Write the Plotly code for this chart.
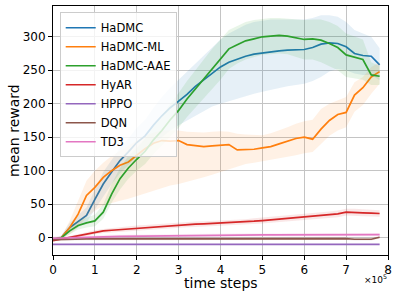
import plotly.graph_objects as go

# time steps (units of 1e5)
steps = [0.0, 0.2, 0.4, 0.6, 0.8, 1.0, 1.2, 1.4, 1.6, 1.8,
         2.0, 2.2, 2.4, 2.6, 2.8, 3.0, 3.2, 3.4, 3.6, 3.8,
         4.0, 4.2, 4.4, 4.6, 4.8, 5.0, 5.2, 5.4, 5.6, 5.8,
         6.0, 6.2, 6.4, 6.6, 6.8, 7.0, 7.2, 7.4, 7.6, 7.8]

hadmc = [-3, 0, 15, 24, 33, 57, 80, 98, 115, 128,
         142, 152, 168, 182, 194, 204, 214, 226, 236, 246,
         255, 262, 267, 271, 274, 276, 278, 279, 280, 281,
         281, 284, 289, 291, 290, 285, 275, 272, 271, 258]
hadmc_lo = [-5, -2, 8, 15, 22, 42, 62, 80, 96, 108,
            120, 128, 140, 150, 160, 168, 175, 183, 190, 196,
            200, 204, 208, 212, 215, 218, 221, 224, 226, 228,
            230, 234, 240, 248, 252, 250, 245, 243, 243, 235]
hadmc_hi = [-1, 3, 22, 33, 45, 72, 98, 116, 134, 148,
            164, 176, 194, 210, 224, 236, 248, 260, 272, 284,
            296, 305, 312, 318, 322, 324, 326, 326, 326, 326,
            326, 328, 332, 332, 330, 322, 310, 305, 300, 283]

hadmc_ml = [-3, 0, 15, 35, 63, 75, 90, 100, 108, 113,
            123, 133, 141, 145, 144, 145, 139, 138, 136, 137,
            138, 139, 131, 131, 132, 134, 136, 140, 144, 148,
            150, 147, 162, 175, 184, 187, 213, 224, 240, 248]
hadmc_ml_lo = [-5, -2, 5, 15, 30, 40, 48, 52, 55, 58,
               62, 66, 70, 74, 78, 80, 83, 86, 90, 94,
               98, 101, 106, 110, 112, 114, 116, 118, 120, 123,
               126, 128, 140, 152, 160, 165, 188, 198, 215, 230]
hadmc_ml_hi = [-1, 2, 25, 55, 85, 100, 112, 122, 130, 138,
               145, 152, 157, 160, 160, 160, 158, 157, 157, 158,
               159, 158, 155, 154, 153, 153, 156, 160, 165, 170,
               174, 176, 192, 200, 205, 210, 232, 240, 255, 262]

hadmc_aae = [-3, 0, 10, 18, 22, 25, 38, 65, 88, 104,
             117, 129, 146, 160, 176, 190, 207, 222, 238, 252,
             267, 282, 288, 294, 297, 300, 301, 302, 301, 298,
             296, 297, 295, 290, 284, 273, 269, 266, 243, 241]
hadmc_aae_lo = [-5, -2, 5, 12, 15, 17, 28, 52, 72, 88,
                100, 110, 125, 138, 152, 164, 180, 194, 208, 222,
                236, 252, 260, 266, 270, 273, 274, 275, 274, 270,
                266, 266, 262, 256, 250, 240, 238, 236, 228, 228]
hadmc_aae_hi = [-1, 2, 15, 25, 30, 34, 50, 80, 104, 122,
                134, 148, 166, 182, 200, 216, 234, 250, 266, 282,
                296, 310, 316, 322, 325, 327, 328, 328, 327, 326,
                325, 326, 326, 322, 316, 305, 300, 296, 262, 256]

hyar = [-4.5, -2, 0, 3, 6, 8, 10, 11, 12, 13,
        14, 15, 16, 17, 18, 19, 19.5, 20, 20.5, 21,
        21.5, 22, 22.5, 23.5, 24.5, 25.5, 26.5, 27.5, 28.5, 29.5,
        30.5, 31.5, 32.5, 34, 35.5, 38, 38, 37, 36.5, 36]
hyar_sd = [1, 1.5, 2, 2.5, 3, 3, 3, 3.5, 3.5, 3.5,
           4, 4, 4, 4, 4, 4, 4, 4, 4, 4,
           4, 4, 4, 4, 4.5, 4.5, 4.5, 4.5, 4.5, 4.5,
           4.5, 4.5, 5, 5, 5, 5, 5, 5, 5, 5]

hppo = [-10] * 40
hppo_sd = [0.5] * 40

dqn = [-3, -2.5, -2.5, -2.5, -2, -2, -2, -2, -2, -2,
       -1.5, -1.5, -1.5, -1.5, -1.5, -1.3, -1.3, -1.3, -1.3, -1.3,
       -1.3, -1.3, -1.3, -1.3, -1.3, -1.2, -1.2, -1.2, -1.2, -1.2,
       -1.2, -1.2, -1.3, -1.3, -1.5, -1.5, -2.5, -3, -2.5, 0.5]
dqn_sd = [2] * 40

td3 = [-1, -0.5, 0, 0.5, 1, 1.2, 1.4, 1.6, 1.8, 2,
       2.2, 2.4, 2.5, 2.6, 2.8, 3, 3.2, 3.4, 3.6, 3.8,
       4, 4, 4, 4, 4, 4, 4, 4, 4, 4,
       4, 4, 4, 4, 4.2, 4.2, 4.2, 4.3, 4.4, 4.5]
td3_sd = [2.5] * 40

x_ticks = [0, 1, 2, 3, 4, 5, 6, 7, 8]
y_ticks = [0, 50, 100, 150, 200, 250, 300]

series = [
    ("HaDMC", hadmc, hadmc_lo, hadmc_hi, (31, 119, 180)),
    ("HaDMC-ML", hadmc_ml, hadmc_ml_lo, hadmc_ml_hi, (255, 127, 14)),
    ("HaDMC-AAE", hadmc_aae, hadmc_aae_lo, hadmc_aae_hi, (44, 160, 44)),
    ("HyAR", hyar, [m - s for m, s in zip(hyar, hyar_sd)], [m + s for m, s in zip(hyar, hyar_sd)], (214, 39, 40)),
    ("HPPO", hppo, [m - s for m, s in zip(hppo, hppo_sd)], [m + s for m, s in zip(hppo, hppo_sd)], (148, 103, 189)),
    ("DQN", dqn, [m - s for m, s in zip(dqn, dqn_sd)], [m + s for m, s in zip(dqn, dqn_sd)], (140, 86, 75)),
    ("TD3", td3, [m - s for m, s in zip(td3, td3_sd)], [m + s for m, s in zip(td3, td3_sd)], (227, 119, 194)),
]

fig = go.Figure()
for name, mean, lo, hi, (r, g, b) in series:
    fig.add_trace(go.Scatter(x=steps, y=hi, mode="lines", line=dict(width=0),
                             showlegend=False, hoverinfo="skip"))
    fig.add_trace(go.Scatter(x=steps, y=lo, mode="lines", line=dict(width=0),
                             fill="tonexty", fillcolor=f"rgba({r},{g},{b},0.11)",
                             showlegend=False, hoverinfo="skip"))
    fig.add_trace(go.Scatter(x=steps, y=mean, mode="lines", name=name,
                             line=dict(color=f"rgb({r},{g},{b})", width=1.7)))

axis_common = dict(
    showline=True, linecolor="black", linewidth=1, mirror=True,
    ticks="outside", ticklen=4, tickcolor="black", tickwidth=1,
    showgrid=True, gridcolor="#c4c4c4", gridwidth=1, zeroline=False,
    tickfont=dict(family="DejaVu Sans", size=12, color="black"),
)

fig.update_layout(
    width=399, height=298,
    margin=dict(l=53, r=11, t=6, b=43),
    paper_bgcolor="white", plot_bgcolor="white",
    font=dict(family="DejaVu Sans", color="black"),
    xaxis=dict(range=[0, 8], tickvals=x_ticks, ticktext=[str(t) for t in x_ticks], **axis_common),
    yaxis=dict(range=[-26, 346], tickvals=y_ticks, ticktext=[str(t) for t in y_ticks], **axis_common),
    legend=dict(x=0.02, y=0.975, xanchor="left", yanchor="top", traceorder="normal",
                bgcolor="rgba(255,255,255,0.8)", bordercolor="#cccccc", borderwidth=1,
                font=dict(family="DejaVu Sans", size=11.5, color="black")),
    annotations=[
        dict(text="time steps", x=0.5, y=-0.114, xref="paper", yref="paper",
             xanchor="center", yanchor="middle", showarrow=False,
             font=dict(family="DejaVu Sans", size=14, color="black")),
        dict(text="mean reward", x=-0.118, y=0.5, xref="paper", yref="paper",
             xanchor="center", yanchor="middle", textangle=-90, showarrow=False,
             font=dict(family="DejaVu Sans", size=14, color="black")),
        dict(text="×10<sup>5</sup>", x=0.962, y=-0.095, xref="paper", yref="paper",
             xanchor="center", yanchor="middle", showarrow=False,
             font=dict(family="DejaVu Sans", size=9, color="black")),
    ],
)

fig.write_html("out.html", config={"displayModeBar": False},
               post_script="document.body.style.margin='0';")
